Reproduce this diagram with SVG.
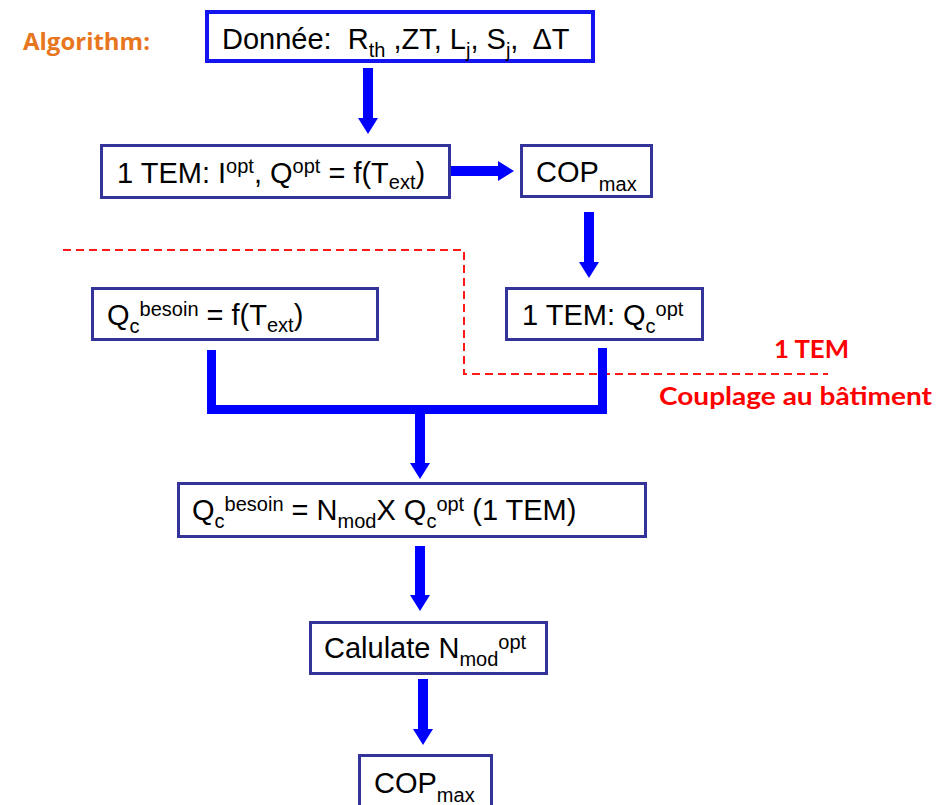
<svg xmlns="http://www.w3.org/2000/svg" width="952" height="805" viewBox="0 0 952 805">
  <style>
    .box { fill: #ffffff; stroke: #333399; stroke-width: 3; }
    .box-top { fill: #ffffff; stroke: #1414f0; stroke-width: 4; }
    .lbl { font-family: "Liberation Sans", Arial, sans-serif; font-size: 29px; fill: #000000; white-space: pre; }
    .s { font-size: 20px; }
    .flow { stroke: #0000ff; stroke-width: 10; fill: none; }
    .join { stroke: #0000ff; stroke-width: 9; fill: none; stroke-linejoin: miter; }
    .limit { stroke: #ff1a1a; stroke-width: 2; stroke-dasharray: 8 5; fill: none; }
    .red { font-family: Lato, "Liberation Sans", sans-serif; font-weight: bold; font-size: 25px; fill: #ff0000; white-space: pre; }
    .title { font-family: "Open Sans", "DejaVu Sans", sans-serif; font-weight: bold; font-size: 24px; fill: #e8761e; }
  </style>
  <defs>
    <marker id="head" markerUnits="userSpaceOnUse" viewBox="0 0 16 20" markerWidth="16" markerHeight="20" refX="0" refY="10" orient="auto">
      <path d="M0,0 L16,10 L0,20 Z" fill="#0000ff"/>
    </marker>
  </defs>

  <!-- heading -->
  <text class="title" x="23" y="50" textLength="127" lengthAdjust="spacingAndGlyphs">Algorithm:</text>

  <!-- boundary between the single-module part and the building coupling -->
  <g id="boundary">
    <path class="limit" d="M63 250 H464 V374 H828"/>
    <text class="red" x="774" y="358" textLength="75" lengthAdjust="spacingAndGlyphs">1 TEM</text>
    <text class="red" x="659" y="405" textLength="273" lengthAdjust="spacingAndGlyphs">Couplage au bâtiment</text>
  </g>

  <!-- connectors -->
  <g id="connectors">
    <line class="flow" x1="368" y1="68" x2="368" y2="118" marker-end="url(#head)"/>
    <line class="flow" x1="451" y1="171" x2="498" y2="171" marker-end="url(#head)"/>
    <line class="flow" x1="589" y1="212" x2="589" y2="262" marker-end="url(#head)"/>
    <path class="join" d="M211.5 350 V409.5 H602.5 V348"/>
    <line class="flow" x1="420" y1="414" x2="420" y2="463" marker-end="url(#head)"/>
    <line class="flow" x1="420" y1="546" x2="420" y2="595" marker-end="url(#head)"/>
    <line class="flow" x1="423" y1="679" x2="423" y2="729" marker-end="url(#head)"/>
  </g>

  <!-- nodes -->
  <g id="n-data">
    <rect class="box-top" x="207" y="12" width="386" height="49"/>
    <text class="lbl" x="222" y="49">Donnée:  R<tspan class="s" dy="8">th</tspan><tspan dy="-8"> ,ZT, L</tspan><tspan class="s" dy="8">j</tspan><tspan dy="-8">, S</tspan><tspan class="s" dy="8">j</tspan><tspan dy="-8">, </tspan><tspan dx="6">ΔT</tspan></text>
  </g>

  <g id="n-tem-opt">
    <rect class="box" x="101.5" y="145.5" width="348" height="52"/>
    <text class="lbl" x="117" y="183">1 TEM: I<tspan class="s" dy="-10">opt</tspan><tspan dy="10">, Q</tspan><tspan class="s" dy="-10">opt</tspan><tspan dy="10"> = f(T</tspan><tspan class="s" dy="6">ext</tspan><tspan dy="-6">)</tspan></text>
  </g>

  <g id="n-cop-1">
    <rect class="box" x="521.5" y="145.5" width="130" height="51"/>
    <text class="lbl" x="536" y="182">COP<tspan class="s" dy="9">max</tspan></text>
  </g>

  <g id="n-besoin">
    <rect class="box" x="92.5" y="288.5" width="285" height="51"/>
    <text class="lbl" x="107" y="325">Q<tspan class="s" dy="8">c</tspan><tspan class="s" dy="-17">besoin</tspan><tspan dy="9"> = f(T</tspan><tspan class="s" dy="7">ext</tspan><tspan dy="-7">)</tspan></text>
  </g>

  <g id="n-qc-opt">
    <rect class="box" x="506.5" y="288.5" width="196" height="51"/>
    <text class="lbl" x="522" y="325">1 TEM: Q<tspan class="s" dy="8">c</tspan><tspan class="s" dy="-17">opt</tspan></text>
  </g>

  <g id="n-balance">
    <rect class="box" x="178.5" y="483.5" width="467" height="53"/>
    <text class="lbl" x="192" y="520">Q<tspan class="s" dy="8">c</tspan><tspan class="s" dy="-17">besoin</tspan><tspan dy="9"> = N</tspan><tspan class="s" dy="8">mod</tspan><tspan dy="-8">X Q</tspan><tspan class="s" dy="8">c</tspan><tspan class="s" dy="-17">opt</tspan><tspan dy="9"> (1 TEM)</tspan></text>
  </g>

  <g id="n-calc">
    <rect class="box" x="310.5" y="622.5" width="236" height="51"/>
    <text class="lbl" x="324" y="658">Calulate N<tspan class="s" dy="8">mod</tspan><tspan class="s" dy="-17">opt</tspan></text>
  </g>

  <g id="n-cop-2">
    <rect class="box" x="359.5" y="755.5" width="132" height="60"/>
    <text class="lbl" x="374" y="793">COP<tspan class="s" dy="9">max</tspan></text>
  </g>
</svg>
